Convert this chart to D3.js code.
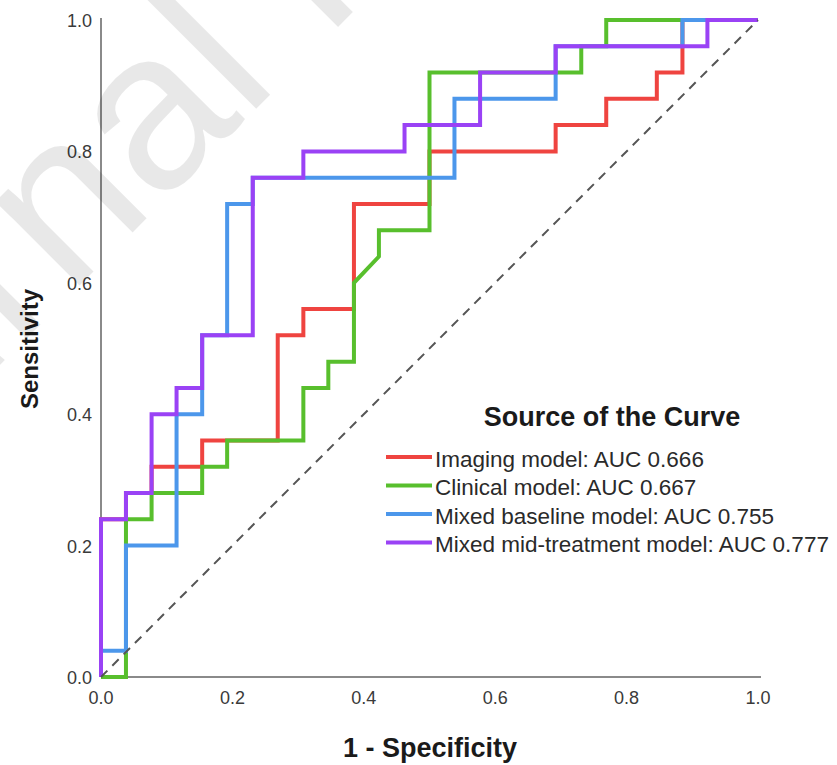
<!DOCTYPE html>
<html>
<head>
<meta charset="utf-8">
<script src="https://cdn.jsdelivr.net/npm/d3@7"></script>
<style>
  html, body { margin: 0; padding: 0; background: #fff; }
  svg { display: block; }
</style>
</head>
<body>
<svg id="chart" width="837" height="765"></svg>
<script>
// ---- data ----
const seriesNames = [
  "Imaging model: AUC 0.666",
  "Clinical model: AUC 0.667",
  "Mixed baseline model: AUC 0.755",
  "Mixed mid-treatment model: AUC 0.777"
];
const seriesColors = ["#ef4440", "#58bf2d", "#4c97eb", "#9a42f5"];

const imagingFPR = [0,0,.038,.038,.077,.077,.154,.154,.269,.269,.308,.308,.385,.385,.5,.5,.692,.692,.769,.769,.846,.846,.885,.885,1];
const imagingTPR = [0,.24,.24,.28,.28,.32,.32,.36,.36,.52,.52,.56,.56,.72,.72,.80,.80,.84,.84,.88,.88,.92,.92,1,1];

const clinicalFPR = [0,.038,.038,.077,.077,.154,.154,.192,.192,.308,.308,.346,.346,.385,.385,.423,.423,.5,.5,.731,.731,.769,.769,1];
const clinicalTPR = [0,0,.24,.24,.28,.28,.32,.32,.36,.36,.44,.44,.48,.48,.60,.64,.68,.68,.92,.92,.96,.96,1,1];

const baselineFPR = [0,0,.038,.038,.115,.115,.154,.154,.192,.192,.231,.231,.538,.538,.692,.692,.885,.885,1];
const baselineTPR = [0,.04,.04,.20,.20,.40,.40,.52,.52,.72,.72,.76,.76,.88,.88,.96,.96,1,1];

const midFPR = [0,0,.038,.038,.077,.077,.115,.115,.154,.154,.231,.231,.308,.308,.462,.462,.577,.577,.692,.692,.923,.923,1];
const midTPR = [0,.24,.24,.28,.28,.40,.40,.44,.44,.52,.52,.76,.76,.80,.80,.84,.84,.92,.92,.96,.96,1,1];

const xTicks = [0, 0.2, 0.4, 0.6, 0.8, 1.0];
const yTicks = [0, 0.2, 0.4, 0.6, 0.8, 1.0];

const series = [
  { name: seriesNames[0], color: seriesColors[0], fpr: imagingFPR, tpr: imagingTPR },
  { name: seriesNames[1], color: seriesColors[1], fpr: clinicalFPR, tpr: clinicalTPR },
  { name: seriesNames[2], color: seriesColors[2], fpr: baselineFPR, tpr: baselineTPR },
  { name: seriesNames[3], color: seriesColors[3], fpr: midFPR, tpr: midTPR }
];

// ---- drawing ----
const svg = d3.select("#chart");
const W = 837, H = 765;
svg.append("rect").attr("width", W).attr("height", H).attr("fill", "#fff");

const x = d3.scaleLinear().domain([0, 1]).range([101, 758]);
const y = d3.scaleLinear().domain([0, 1]).range([677, 20]);

const font = "'Liberation Sans', Arial, sans-serif";

// axis lines
svg.append("line").attr("x1", x(0)).attr("x2", x(0)).attr("y1", y(1) - 2).attr("y2", y(0))
  .attr("stroke", "#8a8a8a").attr("stroke-width", 2);
svg.append("line").attr("x1", x(0)).attr("x2", x(1) + 3).attr("y1", y(0)).attr("y2", y(0))
  .attr("stroke", "#8a8a8a").attr("stroke-width", 2);

// tick labels
svg.append("g").selectAll("text").data(yTicks).join("text")
  .attr("x", 92).attr("y", d => y(d) + 7)
  .attr("text-anchor", "end").attr("font-family", font).attr("font-size", 18)
  .attr("fill", "#3a3a3a").text(d => d3.format(".1f")(d));
svg.append("g").selectAll("text").data(xTicks).join("text")
  .attr("x", d => x(d)).attr("y", 704)
  .attr("text-anchor", "middle").attr("font-family", font).attr("font-size", 18)
  .attr("fill", "#3a3a3a").text(d => d3.format(".1f")(d));

// axis titles
svg.append("text").attr("x", 430).attr("y", 757).attr("text-anchor", "middle")
  .attr("font-family", font).attr("font-weight", "bold").attr("font-size", 27)
  .attr("fill", "#1a1a1a").text("1 - Specificity");
svg.append("text").attr("transform", "translate(38,349) rotate(-90)").attr("text-anchor", "middle")
  .attr("font-family", font).attr("font-weight", "bold").attr("font-size", 24)
  .attr("fill", "#1a1a1a").text("Sensitivity");

// curves
const line = d3.line().x(d => x(d[0])).y(d => y(d[1]));
series.forEach(s => {
  const pts = s.fpr.map((f, i) => [f, s.tpr[i]]);
  svg.append("path").attr("d", line(pts)).attr("fill", "none")
    .attr("stroke", s.color).attr("stroke-width", 4).attr("stroke-linejoin", "miter")
    .attr("stroke-linecap", "butt");
});

// reference diagonal
svg.append("line").attr("x1", x(0)).attr("y1", y(0)).attr("x2", x(1)).attr("y2", y(1))
  .attr("stroke", "#555").attr("stroke-width", 2).attr("stroke-dasharray", "9,7");

// legend
const lg = svg.append("g");
lg.append("text").attr("x", 612).attr("y", 426).attr("text-anchor", "middle")
  .attr("font-family", font).attr("font-weight", "bold").attr("font-size", 27)
  .attr("fill", "#1a1a1a").text("Source of the Curve");
series.forEach((s, i) => {
  const yy = 457 + i * 28.5;
  lg.append("line").attr("x1", 386).attr("x2", 432).attr("y1", yy).attr("y2", yy)
    .attr("stroke", s.color).attr("stroke-width", 4);
  lg.append("text").attr("x", 435).attr("y", yy + 9.5)
    .attr("font-family", font).attr("font-size", 22.5).attr("fill", "#2a2a2a").text(s.name);
});

// watermark
svg.append("text").attr("transform", "translate(-241,606) rotate(-45)")
  .attr("font-family", font).attr("font-size", 225).attr("fill", "#000").attr("fill-opacity", 0.09)
  .text("Journal Pre-proof");
</script>
</body>
</html>
